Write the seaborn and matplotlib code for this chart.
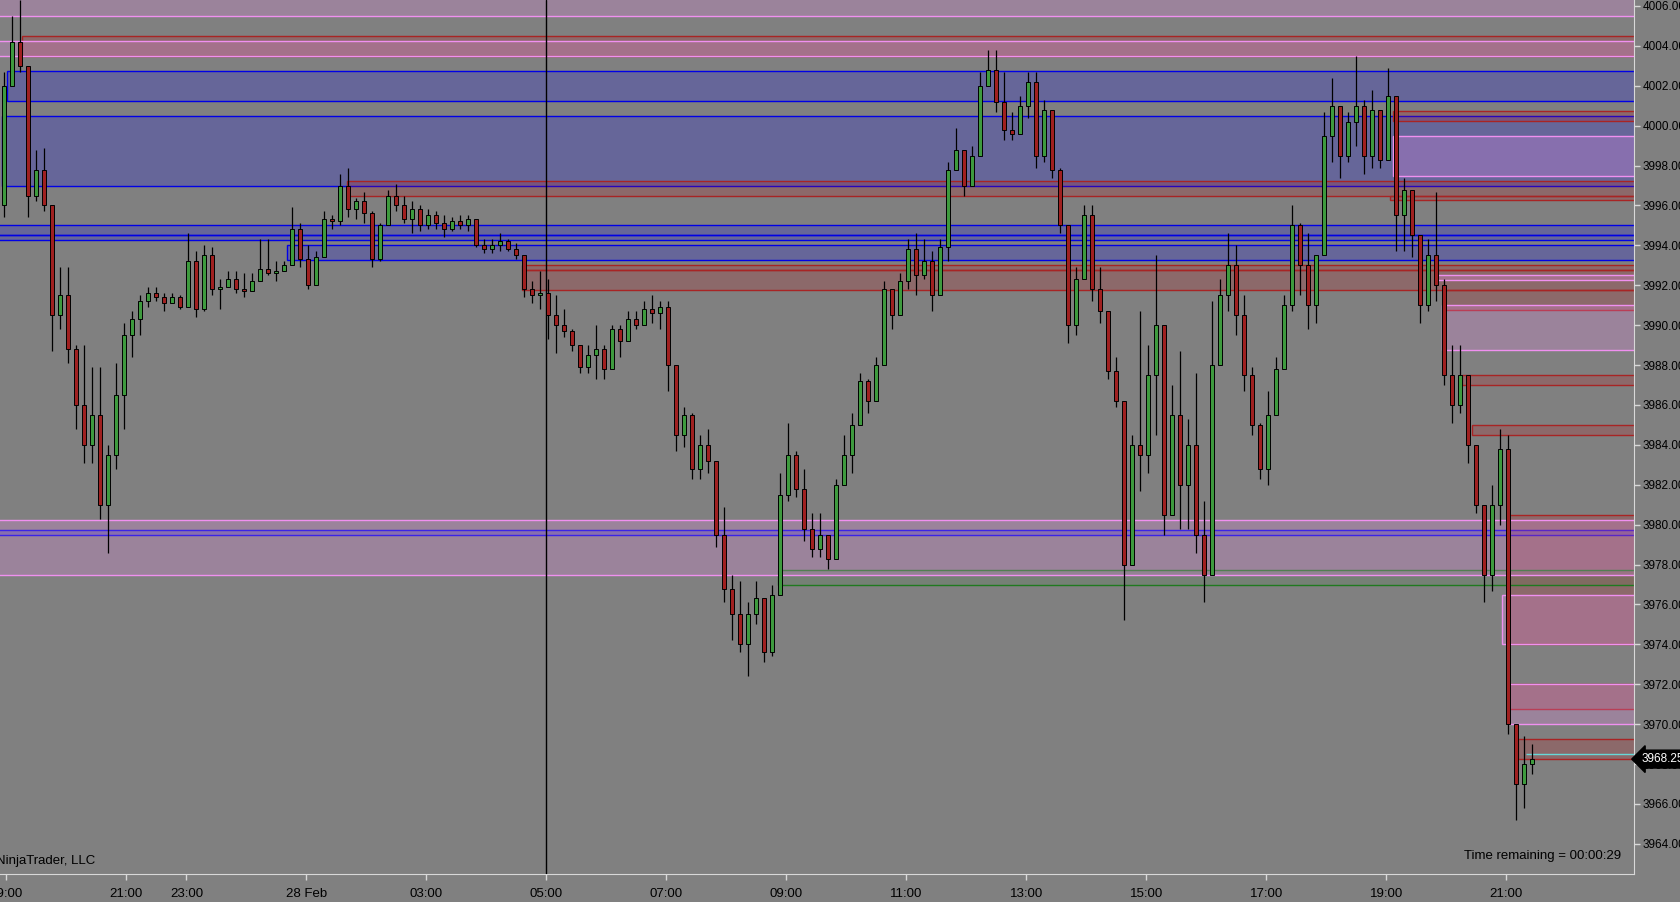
import numpy as np
import matplotlib
matplotlib.use("Agg")
import matplotlib.pyplot as plt
import matplotlib.transforms as mtransforms
from matplotlib.patches import Rectangle
from matplotlib import font_manager
import seaborn as sns

# --- price data (8-minute bars) ---
first_open = 3996.0
closes = [4002.0, 4004.2, 4003.0, 3996.5, 3997.8, 3996.0, 3990.5, 3991.5, 3988.8, 3986.0,
          3984.0, 3985.5, 3981.0, 3983.5, 3986.5, 3989.5, 3990.3, 3991.2, 3991.6, 3991.4,
          3991.1, 3991.4, 3990.9, 3993.2, 3990.8, 3993.5, 3991.8, 3991.9, 3992.3, 3991.8,
          3991.7, 3992.2, 3992.8, 3992.6, 3992.7, 3993.0, 3994.8, 3993.3, 3992.0, 3993.4,
          3995.3, 3995.2, 3997.0, 3995.8, 3996.2, 3995.6, 3993.3, 3995.0, 3996.5, 3996.0,
          3995.3, 3995.8, 3995.0, 3995.5, 3995.1, 3994.8, 3995.2, 3995.0, 3995.3, 3994.0,
          3993.8, 3994.0, 3994.2, 3993.8, 3993.5, 3991.8, 3991.5, 3991.6, 3990.5, 3990.0,
          3989.7, 3989.0, 3987.9, 3988.5, 3988.8, 3987.8, 3989.8, 3989.2, 3990.3, 3990.0,
          3990.8, 3990.6, 3990.9, 3988.0, 3984.5, 3985.5, 3982.8, 3984.0, 3983.2, 3979.5,
          3976.8, 3975.5, 3974.0, 3975.5, 3976.3, 3973.6, 3976.5, 3981.5, 3983.5, 3981.8,
          3979.8, 3978.8, 3979.5, 3978.3, 3982.0, 3983.5, 3985.0, 3987.2, 3986.2, 3988.0,
          3991.8, 3990.5, 3992.2, 3993.8, 3992.5, 3993.2, 3991.5, 3993.9, 3997.8, 3998.8,
          3997.0, 3998.5, 4002.0, 4002.8, 4001.2, 3999.8, 3999.6, 4001.0, 4002.2, 3998.5,
          4000.8, 3997.8, 3995.0, 3990.0, 3992.3, 3995.5, 3991.8, 3990.7, 3987.7, 3986.2,
          3978.0, 3984.0, 3983.5, 3987.5, 3990.0, 3980.5, 3985.5, 3982.0, 3984.0, 3979.5,
          3977.5, 3988.0, 3991.5, 3993.0, 3990.5, 3987.5, 3985.0, 3982.8, 3985.5, 3987.8,
          3991.0, 3995.0, 3993.0, 3991.0, 3993.5, 3999.5, 4001.0, 3998.5, 4000.2, 4001.0,
          3998.5, 4000.8, 3998.3, 4001.5, 3995.5, 3996.8, 3994.5, 3991.0, 3993.5, 3992.0,
          3987.5, 3986.0, 3987.5, 3984.0, 3981.0, 3977.5, 3981.0, 3983.8, 3970.0, 3967.0,
          3968.0, 3968.25]
highs = [4002.7, 4005.5, 4006.3, 4002.7, 3998.8, 3998.9, 3996.0, 3992.9, 3992.9, 3989.0,
         3989.0, 3987.9, 3987.9, 3984.0, 3988.1, 3990.1, 3990.7, 3991.5, 3991.9, 3991.9,
         3991.6, 3991.6, 3991.5, 3994.6, 3993.7, 3994.0, 3993.9, 3992.3, 3992.7, 3992.7,
         3992.6, 3992.6, 3994.3, 3994.3, 3993.2, 3993.2, 3995.9, 3995.1, 3994.0, 3993.7,
         3995.7, 3995.5, 3997.6, 3997.9, 3996.4, 3996.7, 3995.7, 3995.1, 3996.8, 3997.1,
         3996.5, 3996.2, 3996.0, 3995.8, 3995.7, 3995.5, 3995.4, 3995.5, 3995.5, 3995.3,
         3994.3, 3994.3, 3994.6, 3994.3, 3994.1, 3993.4, 3992.2, 3992.7, 3992.3, 3991.5,
         3990.8, 3989.8, 3989.0, 3989.0, 3990.0, 3989.0, 3990.0, 3990.0, 3990.7, 3990.7,
         3991.2, 3991.5, 3991.2, 3991.2, 3988.0, 3985.9, 3985.6, 3984.5, 3984.8, 3983.2,
         3980.9, 3977.5, 3977.2, 3976.1, 3977.2, 3976.3, 3977.0, 3982.6, 3985.1, 3983.7,
         3982.8, 3980.6, 3980.6, 3979.5, 3982.3, 3984.5, 3985.6, 3987.6, 3987.3, 3988.4,
         3992.2, 3991.8, 3992.6, 3994.3, 3994.6, 3994.3, 3993.7, 3994.3, 3998.2, 3999.9,
         3998.8, 3999.0, 4002.7, 4003.8, 4003.8, 4002.7, 4000.7, 4001.5, 4002.7, 4002.7,
         4001.3, 4000.7, 3997.9, 3994.6, 3992.9, 3996.0, 3996.0, 3992.9, 3990.7, 3988.4,
         3986.2, 3984.5, 3990.7, 3989.0, 3993.5, 3990.0, 3987.0, 3988.7, 3985.3, 3987.6,
         3981.2, 3991.2, 3992.3, 3994.6, 3994.0, 3991.5, 3987.9, 3985.1, 3986.7, 3988.4,
         3991.5, 3996.0, 3995.1, 3994.6, 3993.5, 4000.7, 4002.4, 4000.7, 4000.7, 4003.5,
         4001.3, 4001.8, 4000.8, 4002.9, 4001.5, 3997.4, 3996.8, 3994.5, 3994.3, 3996.7,
         3992.3, 3989.0, 3989.0, 3987.5, 3984.0, 3981.0, 3982.0, 3984.8, 3984.5, 3970.0,
         3969.4, 3969.0]
lows = [3995.4, 4002.0, 4002.7, 3995.4, 3996.2, 3995.7, 3988.7, 3989.8, 3988.1, 3984.8,
        3983.1, 3983.1, 3980.3, 3978.6, 3982.8, 3984.8, 3988.4, 3989.5, 3990.9, 3991.2,
        3990.7, 3991.1, 3990.8, 3990.9, 3990.4, 3990.7, 3991.5, 3990.8, 3991.9, 3991.6,
        3991.4, 3991.7, 3992.2, 3992.5, 3992.2, 3992.7, 3993.0, 3992.9, 3991.8, 3992.0,
        3993.4, 3994.8, 3995.0, 3995.4, 3995.3, 3995.1, 3992.9, 3993.2, 3995.0, 3995.7,
        3995.1, 3994.6, 3994.7, 3994.8, 3994.8, 3994.4, 3994.7, 3994.8, 3994.7, 3993.9,
        3993.6, 3993.6, 3993.7, 3993.7, 3993.3, 3991.4, 3991.1, 3990.8, 3989.3, 3988.6,
        3989.4, 3988.7, 3987.6, 3987.6, 3987.3, 3987.3, 3987.8, 3988.4, 3989.2, 3989.8,
        3990.0, 3990.1, 3989.8, 3986.7, 3983.7, 3983.9, 3982.3, 3982.3, 3982.6, 3978.9,
        3976.1, 3974.2, 3973.6, 3972.4, 3975.0, 3973.1, 3973.4, 3976.5, 3981.2, 3981.4,
        3979.2, 3978.4, 3978.4, 3977.8, 3978.3, 3982.0, 3982.6, 3985.0, 3985.6, 3986.2,
        3988.0, 3989.8, 3990.5, 3991.8, 3991.5, 3992.3, 3990.7, 3991.5, 3993.2, 3997.8,
        3996.5, 3997.0, 3998.5, 4002.0, 4000.7, 3999.3, 3999.3, 3999.6, 4000.4, 3997.9,
        3998.2, 3997.4, 3994.6, 3989.1, 3989.5, 3992.3, 3991.2, 3990.1, 3987.3, 3985.9,
        3975.2, 3978.0, 3981.7, 3982.6, 3984.5, 3979.5, 3980.5, 3979.8, 3979.8, 3978.6,
        3976.1, 3977.5, 3988.0, 3990.7, 3989.5, 3986.7, 3984.5, 3982.3, 3982.0, 3985.5,
        3987.8, 3990.7, 3991.5, 3989.8, 3990.1, 3993.5, 3998.2, 3997.4, 3998.2, 3999.0,
        3997.6, 3997.9, 3997.9, 3998.3, 3993.7, 3993.7, 3993.4, 3990.1, 3990.7, 3991.2,
        3987.0, 3985.1, 3985.6, 3983.1, 3980.6, 3976.1, 3976.7, 3980.0, 3969.5, 3965.2,
        3965.8, 3967.5]
last_price = 3968.25

# time labels and the bar where each one sits
tick_labels = ["19:00", "21:00", "23:00", "28 Feb", "03:00", "05:00", "07:00",
               "09:00", "11:00", "13:00", "15:00", "17:00", "19:00", "21:00"]
tick_bars = [0.3, 15.3, 22.8, 37.8, 52.8, 67.8, 82.8, 97.8, 112.8, 127.8,
             142.8, 157.8, 172.8, 187.8]
session_bar = 67.8

# zones: (low, high, first bar)
pink_zones = [(4005.5, 4007.0, -1), (4003.5, 4004.25, -1), (3997.5, 3999.5, 173.6),
              (3992.25, 3992.5, 179.1), (3988.75, 3991.0, 179.75), (3977.5, 3980.25, -1),
              (3974.0, 3976.5, 187.25), (3970.0, 3972.0, 188.0)]
red_zones = [(4003.5, 4004.5, 2.25), (3996.5, 3997.25, 42.9), (3996.25, 3996.5, 173.25),
             (4000.25, 4000.75, 173.6), (3991.75, 3992.75, 64.75), (3992.75, 3993.0, 64.75),
             (3990.75, 3991.75, 180.1), (3987.0, 3987.5, 182.25), (3984.5, 3985.0, 183.5),
             (3974.0, 3980.5, 187.9), (3970.75, 3972.0, 188.0), (3968.25, 3969.25, 189.25)]
blue_zones = [(4001.25, 4002.75, 0.4), (3997.0, 4000.5, -0.25), (3994.5, 3995.0, -1),
              (3994.25, 3994.5, -1), (3993.25, 3994.0, 35.4), (3979.5, 3979.75, -1)]
green_zones = [(3977.0, 3977.75, 96.75)]
ask_line = (3968.5, 190.25)

# --- style ---
sns.set_style("ticks")
plt.rcParams['font.family'] = ['Liberation Sans', 'DejaVu Sans']
names = {f.name for f in font_manager.fontManager.ttflist}
narrow = 'Liberation Sans Narrow' if 'Liberation Sans Narrow' in names else 'Liberation Sans'

bg = '#808080'
axis_col = '#D8D8D8'

fig = plt.figure(figsize=(16.8, 9.02), dpi=100)
fig.patch.set_facecolor(bg)
ax = fig.add_axes([0, 28 / 902, 1634 / 1680, 874 / 902])
ax.set_facecolor(bg)

xmax = 203.75
ax.set_xlim(-0.5, xmax)
ax.set_ylim(3962.49, 4006.30)


def draw_zones(zones, fill, edge, z):
    for lo, hi, start in zones:
        ax.add_patch(Rectangle((start, lo), xmax + 5 - start, hi - lo,
                               facecolor=fill, edgecolor=edge, linewidth=1.0, zorder=z))


draw_zones(blue_zones, (0.0, 0.0, 1.0, 0.2), '#0000E6', 2)
draw_zones(red_zones, (0.72, 0.1, 0.12, 0.22), '#A82424', 2.2)
draw_zones(green_zones, (0.1, 0.5, 0.1, 0.1), '#1F7A1F', 2.3)
draw_zones(pink_zones, (0.93, 0.55, 0.93, 0.25), '#F090F0', 2.4)
ax.hlines(ask_line[0], ask_line[1], xmax, color='#66D8D8', lw=1.0, zorder=3)

ax.axvline(session_bar, color='black', lw=1.0, zorder=3)

# --- candles ---
c = np.array(closes)
o = np.array([first_open] + closes[:-1])
h = np.maximum(np.array(highs), np.maximum(o, c))
l = np.minimum(np.array(lows), np.minimum(o, c))
x = np.arange(len(c))
up = c >= o

ax.vlines(x, l, h, color='black', lw=0.9, zorder=4)
body_lo = np.minimum(o, c)
body_h = np.maximum(np.abs(c - o), 0.06)
ax.bar(x[up], body_h[up], bottom=body_lo[up], width=0.6, color='#3E9A3E',
       edgecolor='black', linewidth=0.7, zorder=5)
ax.bar(x[~up], body_h[~up], bottom=body_lo[~up], width=0.6, color='#A02020',
       edgecolor='black', linewidth=0.7, zorder=5)

# --- axes ---
sns.despine(ax=ax, left=True, top=True, right=False, bottom=False)
ax.spines['right'].set_color(axis_col)
ax.spines['bottom'].set_color(axis_col)
ax.yaxis.tick_right()
yt = np.arange(3964, 4007, 2)
ax.set_yticks(yt)
ax.set_yticklabels([f"{v:.2f}" for v in yt], fontfamily=narrow)
ax.set_xticks(tick_bars)
ax.set_xticklabels(tick_labels, fontfamily=narrow)
ax.tick_params(axis='y', direction='out', length=4, width=1, color=axis_col,
               labelcolor='black', labelsize=8.5, pad=2.5)
ax.tick_params(axis='x', direction='out', length=4, width=1, color=axis_col,
               labelcolor='black', labelsize=9.5, pad=6)
ax.grid(False)

# last price marker
trans = mtransforms.blended_transform_factory(ax.transAxes, ax.transData)
ax.text(1.0046, last_price, f"{last_price:.2f}", transform=trans, ha='left', va='center',
        color='white', fontsize=8.5, fontfamily=narrow, clip_on=False, zorder=10,
        bbox=dict(boxstyle='larrow,pad=0.25', fc='black', ec='black'))

fig.text(-4 / 1680, (902 - 861) / 902, "NinjaTrader, LLC", fontsize=9.5,
         fontfamily=narrow, color='black', ha='left', va='center')
fig.text(1621 / 1680, (902 - 856) / 902, "Time remaining = 00:00:29", fontsize=9.5,
         fontfamily=narrow, color='black', ha='right', va='center')

fig.savefig('out.png', dpi=100, facecolor=fig.get_facecolor())
